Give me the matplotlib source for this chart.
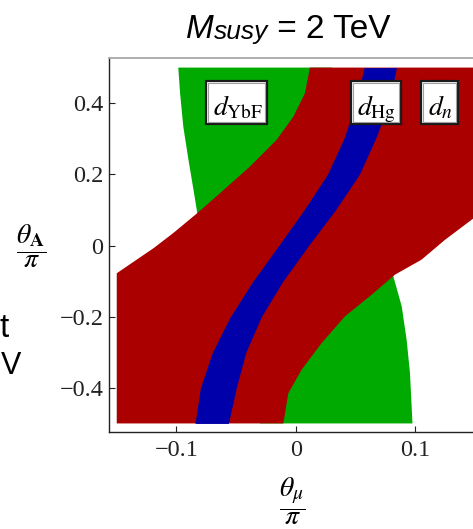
import numpy as np
import matplotlib.pyplot as plt
from matplotlib.patches import Rectangle

plt.rcParams['font.family'] = ['Liberation Serif', 'DejaVu Serif']
plt.rcParams['mathtext.fontset'] = 'stix'

# colores de las regiones
verde = '#00aa00'
rojo = '#aa0000'
azul = '#0000aa'

# banda verde (d_YbF): borde izquierdo visible arriba, borde derecho visible abajo,
# los dos puntos del medio de cada lado quedan tapados por el rojo
green_x = [-0.0985, -0.097, -0.0943, -0.090, -0.0853, -0.0826, -0.06, -0.03,
           0.0975, 0.0954, 0.0926, 0.0885, 0.0815, 0.06, 0.03]
green_y = [0.5, 0.428, 0.334, 0.241, 0.147, 0.091, -0.2, -0.5,
           -0.5, -0.358, -0.265, -0.171, -0.087, 0.2, 0.5]

# banda roja: borde superior-izquierdo (de abajo hacia arriba)
red_up_x = [-0.15, -0.15, -0.119, -0.1027, -0.0826, -0.0636, -0.0385, -0.0162, -0.0022, 0.0075, 0.0117, 0.15]
red_up_y = [-0.5, -0.078, -0.007, 0.035, 0.091, 0.147, 0.222, 0.297, 0.362, 0.428, 0.5, 0.5]
# borde inferior-derecho (de arriba hacia abajo)
red_low_x = [0.15, 0.1247, 0.105, 0.0828, 0.0634, 0.041, 0.0215, 0.0047, -0.0064, -0.0106]
red_low_y = [0.08, 0.016, -0.040, -0.082, -0.138, -0.199, -0.274, -0.349, -0.415, -0.5]

# banda azul
blue_y = [-0.5, -0.4, -0.3, -0.2, -0.1, 0.0, 0.1, 0.2, 0.3, 0.4, 0.5]
blue_left = [-0.0845, -0.080, -0.070, -0.055, -0.036, -0.0145, 0.0067, 0.0263, 0.040, 0.050, 0.057]
blue_right = [-0.0566, -0.050, -0.042, -0.029, -0.011, 0.0105, 0.033, 0.053, 0.0665, 0.078, 0.084]

# etiquetas
etiquetas = [r'$d_{\mathrm{YbF}}$', r'$d_{\mathrm{Hg}}$', r'$d_n$']

x_ticks = [-0.1, 0, 0.1]
x_tick_labels = ['\u22120.1', '0', '0.1']
y_ticks = [-0.4, -0.2, 0, 0.2, 0.4]
y_tick_labels = ['\u22120.4', '\u22120.2', '0', '0.2', '0.4']

W, H = 473, 529
fig = plt.figure(figsize=(W / 100, H / 100), dpi=100)
ax = fig.add_axes([0.2304, 0.1834, 0.7907, 0.7070])

ax.fill(green_x, green_y, color=verde, lw=0, zorder=1)
ax.fill(red_up_x + red_low_x, red_up_y + red_low_y, color=rojo, lw=0, zorder=2)
ax.fill_betweenx(blue_y, blue_left, blue_right, color=azul, lw=0, zorder=3)

# cajas de las etiquetas (en coordenadas de datos)
cajas = [(-0.0753, -0.0243), (0.0458, 0.0876), (0.1046, 0.1358)]
y0, y1 = 0.3419, 0.4626
dx, dy = 0.0018, 0.0058
for txt, (x0, x1) in zip(etiquetas, cajas):
    ax.add_patch(Rectangle((x0, y0), x1 - x0, y1 - y0, facecolor='white',
                           edgecolor='#1a1a1a', lw=1.6, zorder=5))
    ax.add_patch(Rectangle((x0 + dx, y0 + dy), x1 - x0 - 2 * dx, y1 - y0 - 2 * dy,
                           facecolor='none', edgecolor='#a0a0a0', lw=0.8, zorder=6))
    ax.text((x0 + x1) / 2 + 0.001, 0.366, txt, fontsize=20, ha='center', va='baseline', zorder=7)

ax.set_xlim(-0.1565, 0.1565)
ax.set_ylim(-0.524, 0.527)
ax.set_xticks(x_ticks)
ax.set_xticklabels(x_tick_labels)
ax.set_yticks(y_ticks)
ax.set_yticklabels(y_tick_labels)
ax.tick_params(direction='in', length=4, width=0.8, labelsize=17.5, colors='#222222')
ax.tick_params(axis='y', pad=4)
ax.tick_params(axis='x', pad=6)
ax.tick_params(top=False, right=False)

for lado in ['left', 'bottom']:
    ax.spines[lado].set_color('#222222')
    ax.spines[lado].set_linewidth(1.0)
for lado in ['top', 'right']:
    ax.spines[lado].set_color('#a8a8a8')
    ax.spines[lado].set_linewidth(1.3)

ax.set_ylabel(r'$\dfrac{\theta_{\mathbf{A}}}{\pi}$', rotation=0, fontsize=20, ha='center', va='center')
ax.yaxis.set_label_coords(-0.208, 0.497)
ax.set_xlabel(r'$\dfrac{\theta_{\mu}}{\pi}$', fontsize=20, ha='center', va='center')
ax.xaxis.set_label_coords(0.49, -0.184)

# titulo armado por partes: M, subindice susy, y el resto
fig.canvas.draw()
r = fig.canvas.get_renderer()
t1 = fig.text(186 / W, 1 - 38.3 / H, 'M', fontsize=24, style='italic',
              family='Liberation Sans', va='baseline')
x_fin = t1.get_window_extent(r).x1
t2 = fig.text(x_fin / W, 1 - 39.5 / H, 'susy', fontsize=19, style='italic',
              family='Liberation Sans', va='baseline')
x_fin = t2.get_window_extent(r).x1
fig.text(x_fin / W, 1 - 38.3 / H, ' = 2 TeV', fontsize=24,
         family='Liberation Sans', va='baseline')

# restos del panel vecino en el borde izquierdo
fig.text(9 / W, 1 - 337.3 / H, 't', fontsize=24, family='Liberation Sans', ha='right', va='baseline')
fig.text(0.5 / W, 1 - 374 / H, 'V', fontsize=22, family='Liberation Sans', ha='left', va='baseline')

fig.savefig('out.png', dpi=100)
